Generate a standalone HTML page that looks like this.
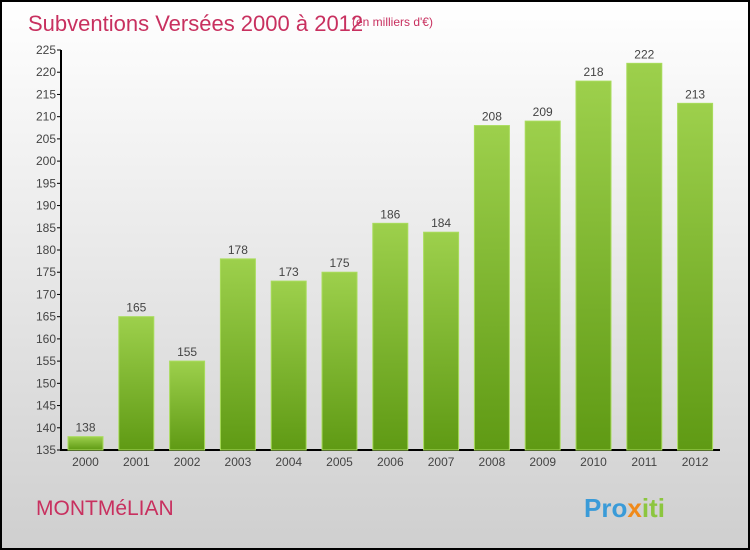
<!DOCTYPE html>
<html><head><meta charset="utf-8"><style>
body{margin:0}
#c{width:750px;height:550px;position:relative;box-sizing:border-box;border:2px solid #000;background:linear-gradient(#fff,#cfcfcf);font-family:"Liberation Sans",sans-serif;overflow:hidden}
</style></head><body>
<div id="c">
<svg width="746" height="546" style="position:absolute;left:0;top:0" id="svg">
<defs><linearGradient id="g" x1="0" y1="0" x2="0" y2="1"><stop offset="0" stop-color="#9dd04c"/><stop offset="1" stop-color="#5f9a14"/></linearGradient></defs>
<text x="26" y="29" font-size="22" fill="#c8305f">Subventions Versées 2000 à 2012</text>
<text x="350" y="24" font-size="12" fill="#c8305f">(en milliers d'€)</text>
<text x="34" y="513" font-size="21" fill="#c8305f">MONTMéLIAN</text>
<text x="582" y="515" font-size="26" font-weight="bold" fill="#3a9bd8">Pro<tspan fill="#f08a1a">x</tspan><tspan fill="#8cc63f">iti</tspan></text>
<g id="plot"></g>
</svg>
</div>
<script>
const years=["2000","2001","2002","2003","2004","2005","2006","2007","2008","2009","2010","2011","2012"];
const values=[138,165,155,178,173,175,186,184,208,209,218,222,213];
const yTicks=[135,140,145,150,155,160,165,170,175,180,185,190,195,200,205,210,215,220,225];
const NS="http://www.w3.org/2000/svg";
const g=document.getElementById('plot');
const y=v=>448-(v-135)*400/90;
const x=i=>83.5+i*50.8;
function mk(t,a){const e=document.createElementNS(NS,t);for(const k in a)e.setAttribute(k,a[k]);g.appendChild(e);return e;}
let ax=mk('path',{d:'M59 48V448H718',stroke:'#000','stroke-width':2,fill:'none'});


yTicks.forEach(v=>{
 const t=mk('line',{x1:55,x2:59,y1:y(v),y2:y(v),stroke:'#000'});
 
 
 const l=mk('text',{x:54,y:y(v)+4,'font-size':12,'text-anchor':'end',fill:'#444'});
 l.textContent=v;
 
 
});
years.forEach((yr,i)=>{
 const v=values[i];
 const b=mk('rect',{x:x(i)-17.5,y:y(v),width:35,height:448-y(v),fill:'url(#g)',stroke:'#a9dc5c','stroke-width':1});
 
 
 const l=mk('text',{x:x(i),y:y(v)-5,'font-size':12,'text-anchor':'middle',fill:'#444'});
 l.textContent=v;
 
 
 const xl=mk('text',{x:x(i),y:464,'font-size':12,'text-anchor':'middle',fill:'#444'});
 xl.textContent=yr;
 
 
});
</script>
</body></html>
